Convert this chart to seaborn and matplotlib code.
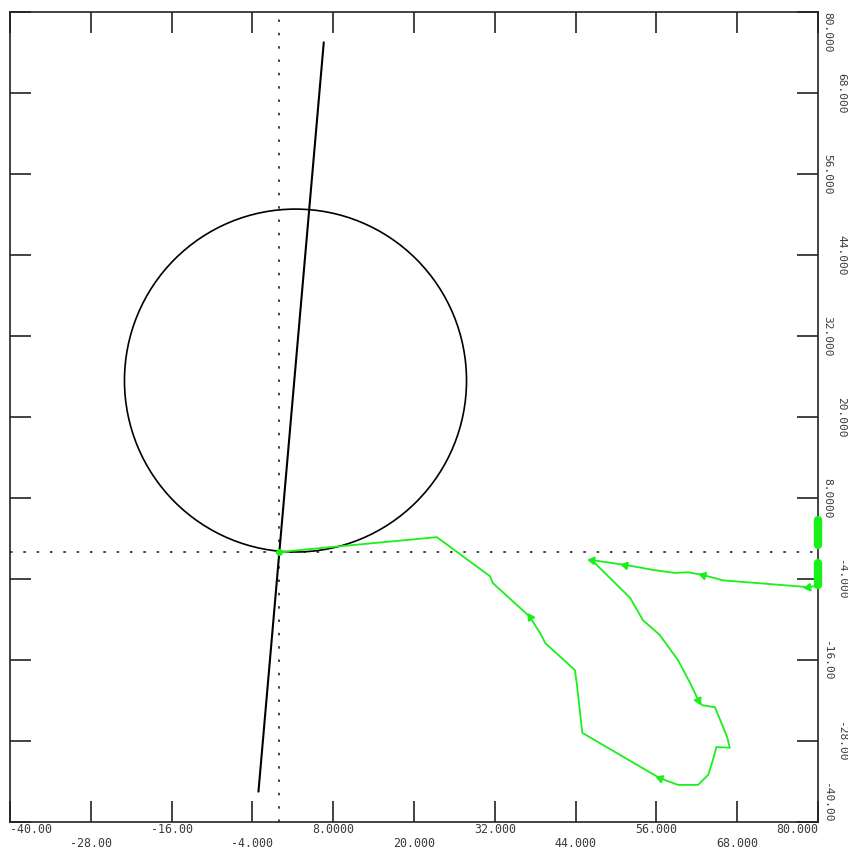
"""Trajectory plot: circle, reference line and a green track, old plotter look."""
import numpy as np
import matplotlib
matplotlib.use("Agg")
import matplotlib.pyplot as plt
from matplotlib.patches import Circle
import seaborn as sns

sns.set_style("white")
plt.rcParams["font.family"] = ["DejaVu Sans Mono", "DejaVu Sans"]

# ---------------------------------------------------------------------------
# Data
# ---------------------------------------------------------------------------
x_ticks = [-40, -28, -16, -4, 8, 20, 32, 44, 56, 68, 80]
x_tick_labels = ["-40.00", "-28.00", "-16.00", "-4.000", "8.0000", "20.000",
                 "32.000", "44.000", "56.000", "68.000", "80.000"]
y_ticks = [-40, -28, -16, -4, 8, 20, 32, 44, 56, 68, 80]
y_tick_labels = ["-40.00", "-28.00", "-16.00", "-4.000", "8.0000", "20.000",
                 "32.000", "44.000", "56.000", "68.000", "80.000"]

circle_center = (2.4, 25.4)
circle_radius = 25.4

ref_line_x = [-3.1, 6.6]
ref_line_y = [-35.5, 75.5]

# green track, in travel order (right edge -> origin)
track_x = [80.0, 78.5, 65.9, 62.9, 60.7, 58.8, 55.8, 51.3, 46.4, 52.1, 54.0,
           56.5, 59.2, 61.0, 62.2, 62.8, 64.7, 66.5, 66.9, 64.9, 64.4, 63.7,
           62.2, 59.2, 56.5, 45.0, 44.2, 43.9, 39.5, 38.9, 37.2, 31.7, 31.3,
           23.4, 0.0]
track_y = [-5.0, -5.2, -4.2, -3.4, -3.0, -3.1, -2.7, -1.9, -1.2, -6.8, -10.1,
           -12.3, -16.0, -19.4, -21.9, -22.7, -23.0, -27.4, -29.0, -28.9, -30.8,
           -33.0, -34.5, -34.5, -33.5, -26.8, -19.7, -17.5, -13.5, -12.3, -9.6,
           -4.6, -3.6, 2.2, 0.0]
arrow_idx = [1, 3, 7, 8, 14, 24, 30]

# thick green stubs sitting on the right border
stub_x = [80.0, 80.0]
stub_a_y = [4.7, 1.0]
stub_b_y = [-1.6, -4.9]

GREEN = "#19f019"
TEXT = "#3a3a3a"

# ---------------------------------------------------------------------------
# Figure
# ---------------------------------------------------------------------------
fig = plt.figure(figsize=(8.48, 8.48), dpi=100)
ax = fig.add_axes([10 / 848, 26 / 848, 808 / 848, 810 / 848])
ax.set_xlim(-40, 80)
ax.set_ylim(-40, 80)

# dotted axes through the origin
ax.axhline(0, color="#222222", lw=1.2, ls=(0, (1.5, 6.5)), zorder=1)
ax.axvline(0, color="#222222", lw=1.2, ls=(0, (1.5, 6.5)), zorder=1)

ax.add_patch(Circle(circle_center, circle_radius, fill=False,
                    edgecolor="black", lw=1.2, zorder=2))
ax.plot(ref_line_x, ref_line_y, color="black", lw=1.5, zorder=2)

sns.lineplot(x=track_x, y=track_y, sort=False, estimator=None,
             color=GREEN, lw=1.3, ax=ax, zorder=3)

for i in arrow_idx:
    ang = np.degrees(np.arctan2(track_y[i] - track_y[i - 1],
                                track_x[i] - track_x[i - 1]))
    ax.plot(track_x[i], track_y[i], marker=(3, 0, ang - 90), ms=6,
            color=GREEN, mec=GREEN, zorder=4)
ax.plot(track_x[-1], track_y[-1], "o", ms=4, color=GREEN, zorder=4)

for sy in (stub_a_y, stub_b_y):
    ax.plot(stub_x, sy, color=GREEN, lw=6, solid_capstyle="round",
            clip_on=False, zorder=5)

# frame + inward ticks on every side
for s in ax.spines.values():
    s.set_color("#222222")
    s.set_linewidth(1.2)
ax.set_xticks(x_ticks)
ax.set_yticks(y_ticks)
ax.tick_params(direction="in", length=15, width=1.2, color="#222222",
               top=True, right=True, bottom=True, left=True,
               labelbottom=False, labelleft=False)

# staggered bottom labels
xt = ax.get_xaxis_transform()
for k, (v, lab) in enumerate(zip(x_ticks, x_tick_labels)):
    ha = "left" if k == 0 else ("right" if k == len(x_ticks) - 1 else "center")
    yy = -0.009 if k % 2 == 0 else -0.026
    ax.text(v, yy, lab, transform=xt, ha=ha, va="center",
            fontsize=8.4, color=TEXT, clip_on=False)

# staggered, rotated right labels
yt = ax.get_yaxis_transform()
for k, (v, lab) in enumerate(zip(y_ticks, y_tick_labels)):
    va = "bottom" if k == 0 else ("top" if k == len(y_ticks) - 1 else "center")
    xx = 1.011 if k % 2 == 0 else 1.029
    ax.text(xx, v, lab, transform=yt, ha="center", va=va, rotation=-90,
            fontsize=8.0, color=TEXT, clip_on=False)

fig.savefig("out.png", dpi=100)
